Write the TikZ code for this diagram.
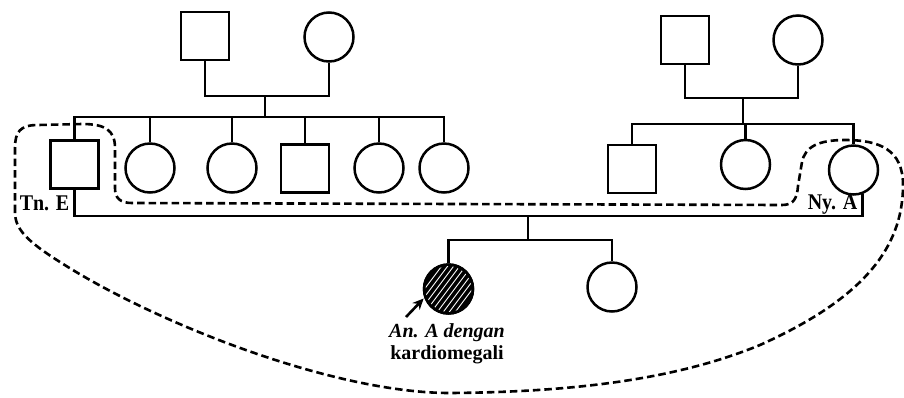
\documentclass[tikz,border=0pt]{standalone}
\usepackage{fontspec}
\setmainfont{Liberation Serif}
\usetikzlibrary{arrows.meta,calc}
\begin{document}
\begin{tikzpicture}[x=1pt,y=-1pt,
  kin/.style={line width=2.5pt},
  male/.style={draw, rectangle, minimum size=48pt, inner sep=0pt, line width=2.5pt},
  female/.style={draw, circle, minimum size=49pt, inner sep=0pt, line width=2.5pt},
  tag/.style={font=\fontsize{20}{22}\selectfont\bfseries, inner sep=0pt},
  household/.style={line width=2.6pt, dash pattern=on 7.5pt off 4pt}]
\useasboundingbox (0,0) rectangle (904,397);

% paternal grandparents
\node[male]   (gfL) at (205,36) {};
\node[female] (gmL) at (329,37) {};
\coordinate (mL) at (265,96);
\coordinate (sL) at (265,117);

% maternal grandparents
\node[male]   (gfR) at (685,40) {};
\node[female] (gmR) at (798,40) {};
\coordinate (mR) at (743,98);
\coordinate (sR) at (743,124);

% father and his siblings
\node[male]   (tnE) at (74.5,164.5) {};
\node[female] (c1)  at (150,168) {};
\node[female] (c2)  at (232,168) {};
\node[male]   (c3)  at (305,168.5) {};
\node[female] (c4)  at (379,168) {};
\node[female] (c5)  at (444,168) {};

% mother and her siblings
\node[male]   (b1)  at (632,169) {};
\node[female] (s2)  at (745.5,164.5) {};
\node[female] (nyA) at (853.5,170) {};

% parents' children
\coordinate (cm) at (528,216);
\coordinate (kc) at (528,240);
\node[female, fill=black] (aff) at (448.5,289) {};
\node[female] (sis) at (612,287) {};

% paternal side lines
\draw[kin] (gfL.south) |- (mL) -| (gmL.south);
\draw[kin] (mL) -- (sL);
\draw[kin] (tnE.north) |- (sL) -| (c5.north);
\foreach \c in {c1,c2,c3,c4} \draw[kin] (\c.north) -- (\c.north |- sL);

% maternal side lines
\draw[kin] (gfR.south) |- (mR) -| (gmR.south);
\draw[kin] (mR) -- (sR);
\draw[kin] (b1.north) |- (sR) -| (nyA.north);
\draw[kin] (s2.north) -- (s2.north |- sR);

% marriage and descent
\draw[kin] (tnE.south) |- (nyA.-70 |- cm) -- (nyA.-70);
\draw[kin] (cm) -- (kc);
\draw[kin] (aff.north) |- (kc) -| (sis.north);

% hatching of the affected child
\begin{scope}
  \clip (aff.center) circle (23pt);
  \foreach \i in {-66,-60,...,66}
    \draw[white, line width=0.9pt] ($(aff.center)+(\i,0)+(-30,40)$) -- ++(60,-80);
\end{scope}
\draw[line width=2.5pt] (aff.center) circle (24.5pt);

% labels
\node[tag] (lblE) at (44.5,203.5) {\scalebox{1}[1.12]{Tn. E}};
\node[tag] (lblA) at (832.5,204.5) {\scalebox{1}[1.12]{Ny. A}};
\node[tag, align=center, font=\fontsize{20}{22}\selectfont\bfseries] (lblK) at (447,344)
  {{\itshape An. A dengan}\\kardiomegali};
\coordinate (arrTail) at (406,317);
\draw[line width=2.6pt, -{Stealth[length=11pt,width=10pt]}, shorten >=1pt] (arrTail) -- (aff.200);

% household boundary
\draw[household] (15,212) -- (15,148)
  .. controls (15,132) and (20,125) .. (38,125)
  -- (82,124)
  .. controls (105,124) and (115,130) .. (115,148)
  -- (115,188)
  .. controls (115,198) and (120,203) .. (132,203)
  -- (782,205)
  .. controls (794,205) and (797,198) .. (798,186)
  -- (802,162)
  .. controls (805,147) and (818,140) .. (845,140)
  .. controls (880,140) and (903,150) .. (903,185)
  .. controls (903,250) and (860,300) .. (760,345)
  .. controls (680,378) and (580,392) .. (450,393)
  .. controls (330,393) and (150,320) .. (60,262)
  .. controls (25,240) and (15,228) .. (15,212) -- cycle;
\end{tikzpicture}
\end{document}
